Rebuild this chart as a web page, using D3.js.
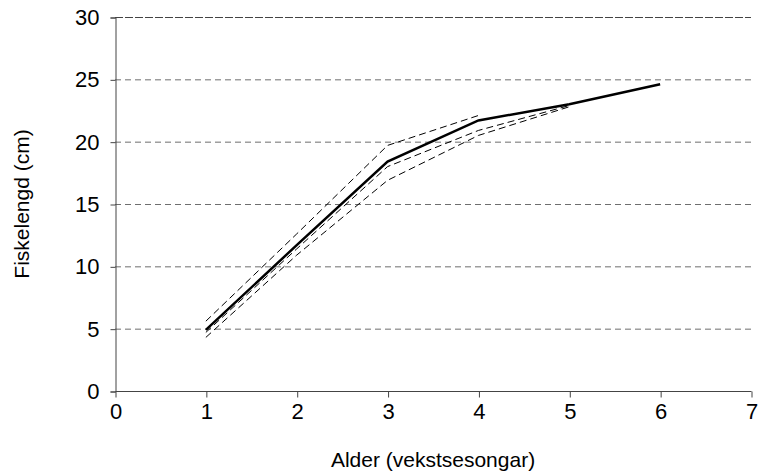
<!DOCTYPE html>
<html>
<head>
<meta charset="utf-8">
<script src="https://cdn.jsdelivr.net/npm/d3@7"></script>
<style>
  body { margin: 0; background: #fff; }
  svg { font-family: "Liberation Sans", Arial, sans-serif; }
</style>
</head>
<body>
<svg id="chart" width="761" height="471"></svg>
<script>
// alder (vekstsesongar)
const ages = [1, 2, 3, 4, 5, 6];
// gjennomsnitt (heil linje)
const meanLength = [4.9, 11.7, 18.4, 21.7, 23.0, 24.6];
// enkeltår (stipla linjer)
const cohortA = [5.6, 12.6, 19.7, 22.1];
const cohortB = [4.7, 11.4, 18.0, 20.9, 22.9];
const cohortC = [4.3, 10.9, 16.9, 20.5, 22.8];
const xTicks = [0, 1, 2, 3, 4, 5, 6, 7];
const yTicks = [0, 5, 10, 15, 20, 25, 30];

const margin = { top: 17, right: 10, bottom: 80, left: 115 };
const width = 761 - margin.left - margin.right;
const height = 471 - margin.top - margin.bottom;

const svg = d3.select("#chart");
const g = svg.append("g")
  .attr("transform", "translate(" + margin.left + "," + margin.top + ")");

const x = d3.scaleLinear().domain([0, 7]).range([0, width]);
const y = d3.scaleLinear().domain([0, 30]).range([height, 0]);

// stipla rutenett
g.selectAll(".grid")
  .data(yTicks.filter((d) => d > 0))
  .join("line")
  .attr("x1", 0)
  .attr("x2", width)
  .attr("y1", (d) => y(d) + 0.5)
  .attr("y2", (d) => y(d) + 0.5)
  .attr("stroke", (d) => (d === 30 ? "#444" : "#6e6e6e"))
  .attr("stroke-width", 1)
  .attr("stroke-dasharray", (d) => (d === 30 ? "8,2" : "6,4"));

// y-akse
const yAxis = g.append("g")
  .attr("transform", "translate(0.5,0.5)")
  .call(d3.axisLeft(y).tickValues(yTicks).tickSize(5).tickPadding(11));
// x-akse
const xAxis = g.append("g")
  .attr("transform", "translate(0.5," + (height + 0.5) + ")")
  .call(d3.axisBottom(x).tickValues(xTicks).tickFormat(d3.format("d")).tickSize(6).tickPadding(6));

[yAxis, xAxis].forEach((ax) => {
  ax.attr("font-size", 22).attr("font-family", "Liberation Sans, Arial, sans-serif");
  ax.select(".domain").attr("stroke", "#444");
  ax.selectAll(".tick line").attr("stroke", "#444");
  ax.selectAll(".tick text").attr("fill", "#000");
});
xAxis.select(".domain").attr("d", "M0,0H" + width);

// linjer
const line = d3.line()
  .x((d) => x(d[0]))
  .y((d) => y(d[1]));

const dashed = [cohortA, cohortB, cohortC];
dashed.forEach((vals) => {
  g.append("path")
    .datum(vals.map((v, i) => [ages[i], v]))
    .attr("d", line)
    .attr("fill", "none")
    .attr("stroke", "#000")
    .attr("stroke-width", 1)
    .attr("stroke-dasharray", "7,4");
});

g.append("path")
  .datum(meanLength.map((v, i) => [ages[i], v]))
  .attr("d", line)
  .attr("fill", "none")
  .attr("stroke", "#000")
  .attr("stroke-width", 2.5);

// aksetitlar
svg.append("text")
  .attr("x", margin.left + x(3.5))
  .attr("y", 467)
  .attr("text-anchor", "middle")
  .attr("font-size", 21)
  .text("Alder (vekstsesongar)");

svg.append("text")
  .attr("transform", "translate(29," + (margin.top + y(15)) + ") rotate(-90)")
  .attr("text-anchor", "middle")
  .attr("font-size", 21)
  .text("Fiskelengd (cm)");
</script>
</body>
</html>
